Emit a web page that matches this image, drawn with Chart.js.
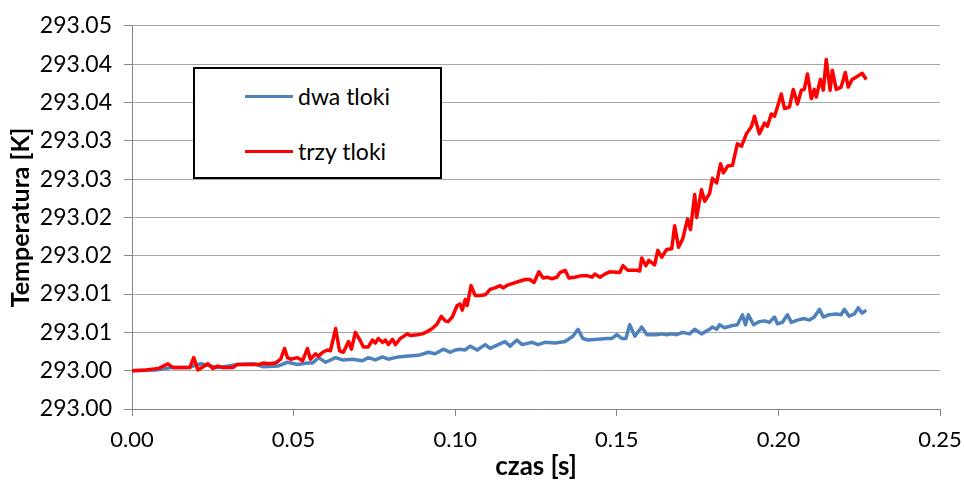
<!DOCTYPE html>
<html lang="pl">
<head>
<meta charset="utf-8">
<title>Temperatura - dwa tloki / trzy tloki</title>
<script src="https://cdn.jsdelivr.net/npm/chart.js@4.4.1/dist/chart.umd.min.js"></script>
<style>
    html, body { margin: 0; padding: 0; background: #fff; }
    .wrap { position: relative; width: 964px; height: 485px; }
    .legend-box {
        position: absolute; left: 193px; top: 67px; width: 245px; height: 108px;
        border: 2px solid #000; background: #fff;
        font-family: Lato, "Open Sans", sans-serif; font-size: 23px; color: #000;
    }
    .legend-row { position: absolute; left: 50px; height: 28px; display: flex; align-items: center; }
    .legend-row .swatch { width: 48px; height: 3px; margin-right: 5px; }
</style>
</head>
<body>
<div class="wrap">
    <canvas id="tempChart" width="964" height="485"></canvas>
    <div class="legend-box" id="legendBox"></div>
</div>
<script>
// Series: time [s] and temperature [K]
const seriesNames = ['dwa tloki', 'trzy tloki'];
const seriesColors = ['#4F81BD', '#FF0000'];

const blueTime = [
    0, 0.0074, 0.0120, 0.0173, 0.0213, 0.0265, 0.0327, 0.0377, 0.0407, 0.0451,
    0.0481, 0.0512, 0.0543, 0.0559, 0.0577, 0.0599, 0.0630, 0.0651, 0.0682, 0.0713,
    0.0731, 0.0753, 0.0775, 0.0793, 0.0824, 0.0855, 0.0886, 0.0917, 0.0938, 0.0963,
    0.0985, 0.1000, 0.1015, 0.1031, 0.1046, 0.1068, 0.1093, 0.1108, 0.1123, 0.1154,
    0.1170, 0.1191, 0.1207, 0.1238, 0.1256, 0.1278, 0.1309, 0.1340, 0.1364, 0.1380,
    0.1395, 0.1410, 0.1441, 0.1469, 0.1485, 0.1500, 0.1515, 0.1528, 0.1540, 0.1556,
    0.1577, 0.1593, 0.1623, 0.1639, 0.1654, 0.1670, 0.1685, 0.1704, 0.1725, 0.1741,
    0.1762, 0.1787, 0.1796, 0.1809, 0.1818, 0.1833, 0.1858, 0.1873, 0.1889, 0.1898,
    0.1907, 0.1923, 0.1941, 0.1957, 0.1972, 0.1988, 0.1997, 0.2012, 0.2028, 0.2040,
    0.2059, 0.2080, 0.2096, 0.2111, 0.2127, 0.2139, 0.2157, 0.2179, 0.2194, 0.2204,
    0.2219, 0.2235, 0.2247, 0.2259, 0.2272
];
const blueTemp = [
    293.0000, 293.0001, 293.0004, 293.0004, 293.0009, 293.0004, 293.0008, 293.0009, 293.0005, 293.0006,
    293.0011, 293.0008, 293.0010, 293.0010, 293.0017, 293.0011, 293.0017, 293.0014, 293.0015, 293.0013,
    293.0017, 293.0014, 293.0018, 293.0015, 293.0018, 293.0019, 293.0020, 293.0024, 293.0022, 293.0028,
    293.0024, 293.0027, 293.0028, 293.0027, 293.0032, 293.0027, 293.0034, 293.0029, 293.0032, 293.0038,
    293.0032, 293.0040, 293.0034, 293.0037, 293.0034, 293.0037, 293.0036, 293.0038, 293.0045, 293.0054,
    293.0042, 293.0040, 293.0041, 293.0042, 293.0042, 293.0047, 293.0042, 293.0042, 293.0060, 293.0045,
    293.0057, 293.0047, 293.0047, 293.0048, 293.0047, 293.0048, 293.0047, 293.0050, 293.0048, 293.0054,
    293.0048, 293.0054, 293.0057, 293.0054, 293.0060, 293.0056, 293.0059, 293.0060, 293.0073, 293.0060,
    293.0073, 293.0060, 293.0064, 293.0065, 293.0063, 293.0070, 293.0061, 293.0063, 293.0073, 293.0063,
    293.0066, 293.0068, 293.0066, 293.0070, 293.0080, 293.0070, 293.0073, 293.0074, 293.0073, 293.0080,
    293.0071, 293.0074, 293.0082, 293.0075, 293.0079
];

const redTime = [
    0, 0.0043, 0.0083, 0.0111, 0.0127, 0.0179, 0.0191, 0.0204, 0.0235, 0.0250,
    0.0265, 0.0281, 0.0312, 0.0324, 0.0392, 0.0407, 0.0423, 0.0444, 0.0460, 0.0472,
    0.0481, 0.0491, 0.0512, 0.0528, 0.0543, 0.0552, 0.0568, 0.0577, 0.0590, 0.0605,
    0.0614, 0.0630, 0.0642, 0.0654, 0.0670, 0.0679, 0.0691, 0.0704, 0.0716, 0.0731,
    0.0744, 0.0753, 0.0762, 0.0775, 0.0784, 0.0793, 0.0806, 0.0815, 0.0830, 0.0852,
    0.0861, 0.0883, 0.0898, 0.0914, 0.0929, 0.0944, 0.0957, 0.0969, 0.0978, 0.0991,
    0.1006, 0.1015, 0.1022, 0.1031, 0.1037, 0.1049, 0.1062, 0.1077, 0.1093, 0.1108,
    0.1123, 0.1139, 0.1148, 0.1164, 0.1179, 0.1194, 0.1216, 0.1231, 0.1244, 0.1259,
    0.1272, 0.1284, 0.1299, 0.1315, 0.1324, 0.1340, 0.1352, 0.1370, 0.1392, 0.1407,
    0.1423, 0.1432, 0.1448, 0.1463, 0.1478, 0.1509, 0.1519, 0.1534, 0.1562, 0.1571,
    0.1577, 0.1590, 0.1599, 0.1617, 0.1627, 0.1639, 0.1654, 0.1670, 0.1679, 0.1691,
    0.1704, 0.1719, 0.1728, 0.1741, 0.1747, 0.1762, 0.1772, 0.1787, 0.1796, 0.1809,
    0.1821, 0.1830, 0.1843, 0.1858, 0.1873, 0.1886, 0.1901, 0.1917, 0.1926, 0.1941,
    0.1957, 0.1966, 0.1978, 0.1988, 0.1997, 0.2009, 0.2019, 0.2034, 0.2046, 0.2059,
    0.2071, 0.2080, 0.2090, 0.2102, 0.2111, 0.2117, 0.2130, 0.2139, 0.2148, 0.2160,
    0.2167, 0.2179, 0.2194, 0.2207, 0.2216, 0.2228, 0.2244, 0.2259, 0.2272
];
const redTemp = [
    293.0000, 293.0001, 293.0003, 293.0009, 293.0004, 293.0004, 293.0017, 293.0001, 293.0009, 293.0003,
    293.0006, 293.0004, 293.0004, 293.0008, 293.0008, 293.0010, 293.0009, 293.0010, 293.0015, 293.0029,
    293.0017, 293.0015, 293.0017, 293.0013, 293.0029, 293.0015, 293.0022, 293.0019, 293.0024, 293.0027,
    293.0026, 293.0055, 293.0026, 293.0024, 293.0038, 293.0028, 293.0050, 293.0041, 293.0031, 293.0031,
    293.0040, 293.0036, 293.0042, 293.0037, 293.0040, 293.0034, 293.0041, 293.0034, 293.0042, 293.0048,
    293.0046, 293.0047, 293.0048, 293.0051, 293.0055, 293.0061, 293.0071, 293.0065, 293.0064, 293.0070,
    293.0085, 293.0087, 293.0079, 293.0093, 293.0085, 293.0111, 293.0098, 293.0098, 293.0099, 293.0106,
    293.0108, 293.0111, 293.0108, 293.0112, 293.0114, 293.0116, 293.0119, 293.0119, 293.0115, 293.0129,
    293.0121, 293.0122, 293.0120, 293.0122, 293.0128, 293.0131, 293.0121, 293.0122, 293.0124, 293.0124,
    293.0122, 293.0126, 293.0122, 293.0126, 293.0129, 293.0128, 293.0137, 293.0131, 293.0131, 293.0130,
    293.0147, 293.0137, 293.0144, 293.0138, 293.0157, 293.0148, 293.0158, 293.0159, 293.0189, 293.0161,
    293.0172, 293.0198, 293.0184, 293.0230, 293.0200, 293.0236, 293.0221, 293.0231, 293.0251, 293.0245,
    293.0270, 293.0258, 293.0267, 293.0268, 293.0296, 293.0293, 293.0309, 293.0319, 293.0332, 293.0309,
    293.0323, 293.0319, 293.0335, 293.0332, 293.0344, 293.0361, 293.0342, 293.0344, 293.0367, 293.0348,
    293.0366, 293.0367, 293.0387, 293.0355, 293.0367, 293.0357, 293.0380, 293.0366, 293.0406, 293.0366,
    293.0392, 293.0367, 293.0370, 293.0389, 293.0370, 293.0380, 293.0384, 293.0388, 293.0380
];

// Tick labels as printed on the original (two decimals, so values repeat)
const yTickLabels = ['293.00', '293.00', '293.01', '293.01', '293.02', '293.02',
                     '293.03', '293.03', '293.04', '293.04', '293.05'];
const xTickLabels = ['0.00', '0.05', '0.10', '0.15', '0.20', '0.25'];

const toPoints = (xs, ys) => xs.map((x, i) => ({ x: x, y: ys[i] }));

// Build the legend box (Excel style, inside the plot)
const legendBox = document.getElementById('legendBox');
const legendTops = [13, 68];
seriesNames.forEach((name, i) => {
    const row = document.createElement('div');
    row.className = 'legend-row';
    row.style.top = legendTops[i] + 'px';
    row.innerHTML = `<span class="swatch" style="background:${seriesColors[i]}"></span><span>${name}</span>`;
    legendBox.appendChild(row);
});

const axisGray = '#868686';

new Chart(document.getElementById('tempChart'), {
    type: 'line',
    data: {
        datasets: [
            {
                label: seriesNames[0],
                data: toPoints(blueTime, blueTemp),
                borderColor: seriesColors[0],
                order: 1
            },
            {
                label: seriesNames[1],
                data: toPoints(redTime, redTemp),
                borderColor: seriesColors[1],
                order: 0   // red sits on top of blue
            }
        ]
    },
    options: {
        responsive: false,
        animation: false,
        layout: { padding: { top: 17, right: 24, bottom: 0, left: 0 } },
        elements: {
            point: { radius: 0 },
            line: { tension: 0, borderWidth: 3.5, borderJoinStyle: 'round', fill: false }
        },
        plugins: { legend: { display: false }, tooltip: { enabled: false } },
        scales: {
            x: {
                type: 'linear',
                min: 0,
                max: 0.25,
                afterFit: scale => {
                    scale.height = 76;
                    // let the last label hang into the right margin like Excel does
                    scale.paddingLeft = 0;
                    scale.paddingRight = 0;
                },
                ticks: {
                    stepSize: 0.05,
                    padding: 11,
                    color: '#000',
                    font: { family: 'Lato', size: 22 },
                    callback: (v, i) => xTickLabels[i]
                },
                grid: { drawOnChartArea: false, tickLength: 7, tickColor: axisGray },
                border: { color: axisGray, width: 1 },
                title: {
                    display: true,
                    text: 'czas [s]',
                    color: '#000',
                    font: { family: 'Lato', size: 26, weight: 'bold' },
                    padding: 3
                }
            },
            y: {
                min: 292.995,
                max: 293.045,
                afterFit: scale => { scale.width = 132; },
                ticks: {
                    stepSize: 0.005,
                    padding: 12,
                    color: '#000',
                    font: { family: 'Lato', size: 23 },
                    callback: (v, i) => yTickLabels[i]
                },
                grid: { color: '#a6a6a6', tickLength: 8, tickColor: axisGray },
                border: { color: axisGray, width: 1 },
                title: {
                    display: true,
                    text: 'Temperatura [K]',
                    color: '#000',
                    font: { family: 'Lato', size: 25, weight: 'bold' },
                    padding: 6
                }
            }
        }
    }
});
</script>
</body>
</html>
